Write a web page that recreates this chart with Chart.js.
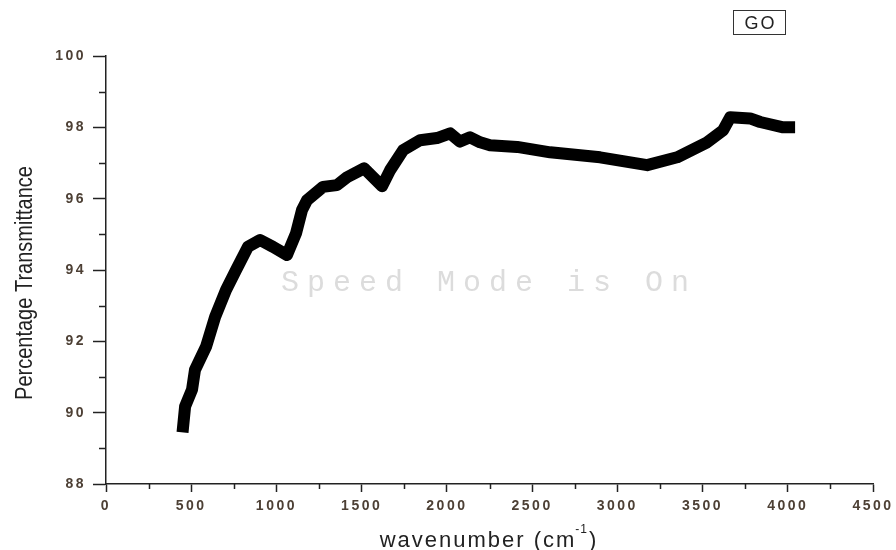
<!DOCTYPE html>
<html>
<head>
<meta charset="utf-8">
<script src="https://cdn.jsdelivr.net/npm/chart.js"></script>
<style>
  html, body { margin: 0; padding: 0; background: #fff; }
  #wrap { position: relative; width: 896px; height: 550px; }
  #go {
    position: absolute; left: 733px; top: 10px; width: 51px; height: 23px;
    border: 1.5px solid #333; font: 18px "Liberation Sans", Arial, sans-serif;
    color: #222; text-align: center; line-height: 24px; letter-spacing: 2px;
    text-indent: 2px;
  }
  #mark {
    position: absolute; left: 281px; top: 266px; white-space: pre;
    font: 30px "Liberation Mono", "Courier New", monospace; color: #dcdcdc;
    letter-spacing: 8px;
  }
</style>
</head>
<body>
<div id="wrap">
  <canvas id="ftir" width="896" height="550"></canvas>
  <div id="go">GO</div>
  <div id="mark">Speed Mode is On</div>
</div>
<script>
// FTIR spectrum of GO
const wavenumber = [449, 464, 505, 522, 587, 640, 704, 763, 833, 904, 980, 1062, 1115, 1150, 1180,
  1273, 1355, 1414, 1514, 1620, 1667, 1743, 1843, 1942, 2019, 2077, 2136, 2195, 2253, 2412,
  2606, 2899, 3175, 3351, 3527, 3621, 3662, 3779, 3838, 3973, 4043];
const transmittance = [89.45, 90.17, 90.65, 91.2, 91.85, 92.68, 93.44, 94.0, 94.65, 94.84, 94.65, 94.42, 95.03, 95.68, 95.96,
  96.33, 96.38, 96.6, 96.85, 96.35, 96.8, 97.36, 97.64, 97.7, 97.83, 97.6, 97.72, 97.58, 97.5, 97.45,
  97.3, 97.16, 96.94, 97.16, 97.58, 97.92, 98.28, 98.25, 98.15, 98.0, 98.0];

const xMinor = [250, 750, 1250, 1750, 2250, 2750, 3250, 3750, 4250];
const yMinor = [89, 91, 93, 95, 97, 99];

const axisColor = '#222';
const tickFont = { family: 'Liberation Sans', size: 14, weight: 'bold' };
const tickColor = '#4d4035';
const titleFont = '"Liberation Sans", Arial, sans-serif';

// spaced-out tick digits, reset after the chart is drawn
const spacing = {
  id: 'spacing',
  beforeDraw(chart) { chart.ctx.letterSpacing = '2.5px'; },
  afterDraw(chart) { chart.ctx.letterSpacing = '0px'; }
};

// short minor ticks and the two axis titles
const extras = {
  id: 'extras',
  afterDraw(chart) {
    const { ctx } = chart;
    const xs = chart.scales.x, ys = chart.scales.y;
    ctx.save();
    ctx.strokeStyle = axisColor;
    ctx.lineWidth = 1.5;
    ctx.beginPath();
    xMinor.forEach(v => {
      const px = Math.round(xs.getPixelForValue(v)) + 0.5;
      ctx.moveTo(px, xs.top);
      ctx.lineTo(px, xs.top + 5);
    });
    yMinor.forEach(v => {
      const py = Math.round(ys.getPixelForValue(v)) + 0.5;
      ctx.moveTo(ys.right - 7, py);
      ctx.lineTo(ys.right, py);
    });
    ctx.stroke();

    ctx.fillStyle = '#222';
    ctx.textBaseline = 'alphabetic';
    ctx.textAlign = 'left';

    // x title with superscript
    const big = '22px ' + titleFont, small = '12px ' + titleFont;
    ctx.font = big;
    ctx.letterSpacing = '2px';
    const w1 = ctx.measureText('wavenumber (cm').width;
    const w3 = ctx.measureText(')').width;
    ctx.font = small;
    ctx.letterSpacing = '1px';
    const w2 = ctx.measureText('-1').width;
    const x0 = 489 - (w1 + w2 + w3) / 2;
    const base = 547;
    ctx.font = big;
    ctx.letterSpacing = '2px';
    ctx.fillText('wavenumber (cm', x0, base);
    ctx.font = small;
    ctx.letterSpacing = '1px';
    ctx.fillText('-1', x0 + w1 - 1, base - 14);
    ctx.font = big;
    ctx.letterSpacing = '2px';
    ctx.fillText(')', x0 + w1 + w2, base);

    // y title, narrowed along its length
    ctx.translate(32, 283);
    ctx.rotate(-Math.PI / 2);
    ctx.scale(0.87, 1);
    ctx.font = '23px ' + titleFont;
    ctx.letterSpacing = '0px';
    ctx.textAlign = 'center';
    ctx.textBaseline = 'alphabetic';
    ctx.fillText('Percentage Transmittance', 0, 0);
    ctx.restore();
  }
};

new Chart(document.getElementById('ftir'), {
  type: 'scatter',
  data: {
    datasets: [{
      label: 'GO',
      data: wavenumber.map((w, i) => ({ x: w, y: transmittance[i] })),
      showLine: true,
      borderColor: '#000',
      borderWidth: 12,
      borderJoinStyle: 'round',
      borderCapStyle: 'butt',
      pointRadius: 0,
      tension: 0
    }]
  },
  options: {
    responsive: false,
    animation: false,
    layout: { padding: { top: 56, right: 23, bottom: 0, left: 0 } },
    plugins: { legend: { display: false }, tooltip: { enabled: false } },
    scales: {
      x: {
        type: 'linear',
        min: 0, max: 4500,
        afterFit(scale) { scale.height = 66; },
        border: { color: axisColor, width: 1.5 },
        grid: { drawOnChartArea: false, tickLength: 8, tickColor: axisColor, tickWidth: 1.5 },
        ticks: { stepSize: 500, padding: 6, font: tickFont, color: tickColor, maxRotation: 0,
                 callback: v => String(v) }
      },
      y: {
        min: 88, max: 100,
        afterFit(scale) { scale.width = 106; },
        border: { color: axisColor, width: 1.5 },
        grid: { drawOnChartArea: false, tickLength: 13, tickColor: axisColor, tickWidth: 1.5 },
        ticks: { stepSize: 2, padding: 7, font: tickFont, color: tickColor,
                 callback: v => String(v) }
      }
    }
  },
  plugins: [spacing, extras]
});
</script>
</body>
</html>
